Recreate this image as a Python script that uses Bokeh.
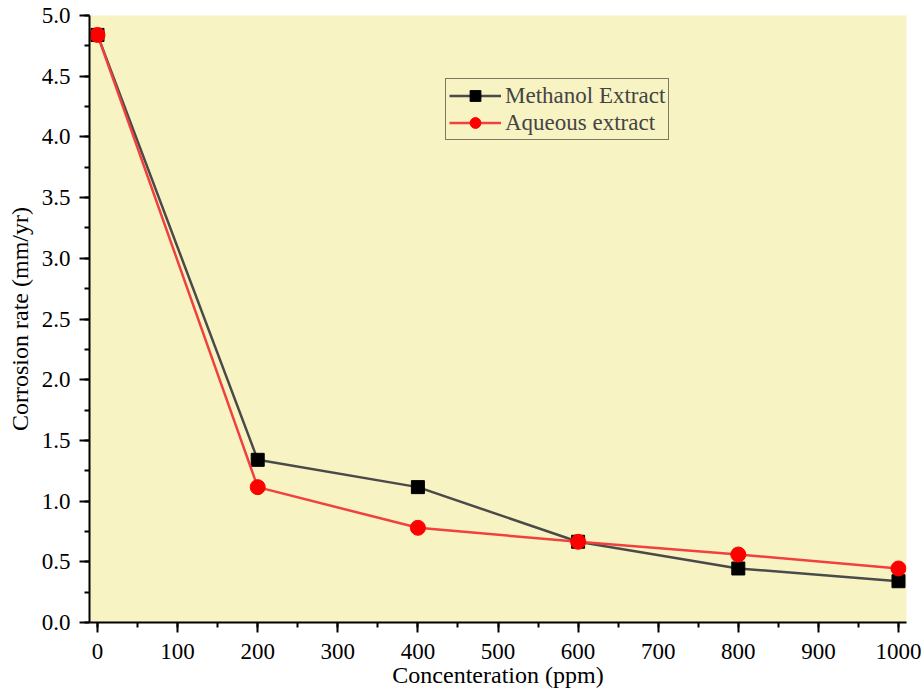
from bokeh.plotting import figure
from bokeh.models import Legend, LegendItem, Range1d, SingleIntervalTicker, NumeralTickFormatter
from bokeh.embed import file_html
from bokeh.resources import INLINE

conc = [0, 200, 400, 600, 800, 1000]
methanol = [4.84, 1.34, 1.115, 0.665, 0.445, 0.34]
aqueous = [4.84, 1.115, 0.78, 0.665, 0.56, 0.445]

FONT = "Liberation Serif"
BG = "#F7F3C2"

p = figure(width=924, height=691, output_backend="svg", toolbar_location=None,
           x_range=Range1d(-10, 1010), y_range=Range1d(0, 5.0),
           min_border_left=89, min_border_right=18, min_border_top=15, min_border_bottom=69,
           background_fill_color=BG, border_fill_color="white")
p.outline_line_color = None
p.grid.visible = False

l1 = p.line(conc, methanol, line_color="#4a4a4a", line_width=2.5)
m1 = p.scatter(conc, methanol, marker="square", size=13, fill_color="black", line_color="black")
l2 = p.line(conc, aqueous, line_color="#f0403f", line_width=2.5)
m2 = p.scatter(conc, aqueous, marker="circle", size=15, fill_color="red", line_color="red")

for ax in (p.xaxis[0], p.yaxis[0]):
    ax.axis_line_width = 2
    ax.axis_line_color = "black"
    ax.major_tick_line_width = 2
    ax.minor_tick_line_width = 2
    ax.major_tick_out = 10
    ax.major_tick_in = 0
    ax.minor_tick_out = 5
    ax.minor_tick_in = 0
    ax.major_label_text_font = FONT
    ax.major_label_text_font_size = "23px"
    ax.major_label_text_color = "black"
    ax.axis_label_text_font = FONT
    ax.axis_label_text_font_size = "24px"
    ax.axis_label_text_font_style = "normal"
    ax.axis_label_text_color = "black"

p.xaxis[0].ticker = SingleIntervalTicker(interval=100, num_minor_ticks=2)
p.yaxis[0].ticker = SingleIntervalTicker(interval=0.5, num_minor_ticks=2)
p.yaxis[0].formatter = NumeralTickFormatter(format="0.0")
p.xaxis[0].axis_label = "Concenteration (ppm)"
p.yaxis[0].axis_label = "Corrosion rate (mm/yr)"
p.xaxis[0].axis_label_standoff = 0
p.yaxis[0].axis_label_standoff = 6
p.xaxis[0].major_label_standoff = 11
p.yaxis[0].major_label_standoff = 9

legend = Legend(items=[LegendItem(label="Methanol Extract", renderers=[l1, m1]),
                       LegendItem(label="Aqueous extract", renderers=[l2, m2])],
                location=(356, 482), label_text_font=FONT, label_text_font_size="23px",
                border_line_color="black", border_line_width=1.5,
                background_fill_color=BG, background_fill_alpha=1.0,
                glyph_width=52, glyph_height=27, label_standoff=4, spacing=0,
                padding=3, margin=0, label_height=27)
p.add_layout(legend)

open("out.html", "w").write(file_html(p, INLINE))
